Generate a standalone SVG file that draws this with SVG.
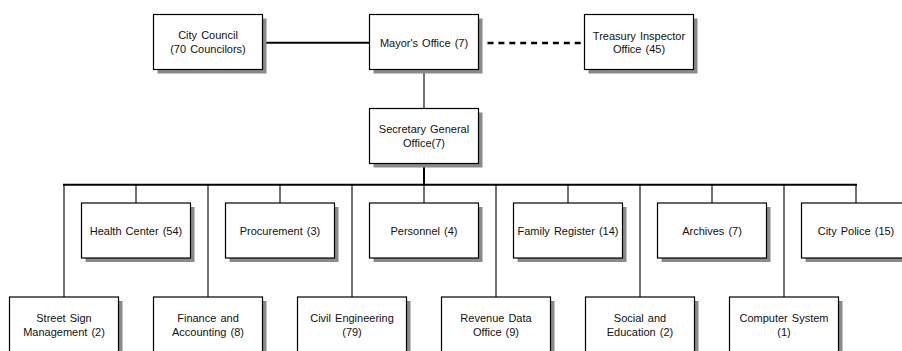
<svg xmlns="http://www.w3.org/2000/svg" width="902" height="351" viewBox="0 0 902 351">
  <style>
    .shadow { fill: #8a8a8a; }
    .box { fill: #ffffff; stroke: #000000; stroke-width: 1.2; }
    .label { font-family: "Liberation Sans", Arial, sans-serif; font-size: 11px; fill: #111111; text-anchor: middle; word-spacing: 1px; }
    .thick { stroke: #000000; stroke-width: 2; fill: none; }
    .thin { stroke: #000000; stroke-width: 1.1; fill: none; }
    .dash { stroke: #000000; stroke-width: 2.6; fill: none; stroke-dasharray: 6 4.9; }
  </style>
  <defs>
    <g id="card">
      <rect class="shadow" x="4" y="4" width="109" height="55"/>
      <rect class="box" x="0" y="0" width="109" height="55"/>
    </g>
  </defs>

  <rect width="902" height="351" fill="#ffffff"/>

  <!-- connectors -->
  <g id="connectors">
    <line class="thick" x1="263" y1="42.7" x2="369.5" y2="42.7"/>
    <line class="dash" x1="487.5" y1="43" x2="581" y2="43"/>
    <line class="thin" x1="424" y1="70" x2="424" y2="108.5" stroke-width="1.6"/>
    <line class="thick" x1="424" y1="163.5" x2="424" y2="185"/>
    <line class="thick" x1="63" y1="184.7" x2="857" y2="184.7"/>
    <!-- drops to upper row -->
    <line class="thin" x1="136" y1="185" x2="136" y2="203"/>
    <line class="thin" x1="280" y1="185" x2="280" y2="203"/>
    <line class="thin" x1="424" y1="185" x2="424" y2="203"/>
    <line class="thin" x1="568" y1="185" x2="568" y2="203"/>
    <line class="thin" x1="712" y1="185" x2="712" y2="203"/>
    <line class="thin" x1="856" y1="185" x2="856" y2="203"/>
    <!-- drops to lower row -->
    <line class="thin" x1="64" y1="185" x2="64" y2="297"/>
    <line class="thin" x1="208" y1="185" x2="208" y2="297"/>
    <line class="thin" x1="352" y1="185" x2="352" y2="297"/>
    <line class="thin" x1="496" y1="185" x2="496" y2="297"/>
    <line class="thin" x1="640" y1="185" x2="640" y2="297"/>
    <line class="thin" x1="784" y1="185" x2="784" y2="297"/>
  </g>

  <!-- top level -->
  <g id="city-council">
    <use href="#card" x="153.5" y="14.5"/>
    <text class="label" x="208" y="39">City Council</text>
    <text class="label" x="208" y="52.5">(70 Councilors)</text>
  </g>
  <g id="mayors-office">
    <use href="#card" x="369.5" y="14.5"/>
    <text class="label" x="424" y="46.5">Mayor's Office (7)</text>
  </g>
  <g id="treasury-inspector">
    <use href="#card" x="584.5" y="14.5"/>
    <text class="label" x="639" y="39.5">Treasury Inspector</text>
    <text class="label" x="639" y="53">Office (45)</text>
  </g>
  <g id="secretary-general">
    <use href="#card" x="369.5" y="108.5"/>
    <text class="label" x="424" y="132.5">Secretary General</text>
    <text class="label" x="424" y="147">Office(7)</text>
  </g>

  <!-- upper row of departments -->
  <g id="health-center">
    <use href="#card" x="81.5" y="203"/>
    <text class="label" x="136" y="234.5">Health Center (54)</text>
  </g>
  <g id="procurement">
    <use href="#card" x="225.5" y="203"/>
    <text class="label" x="280" y="234.5">Procurement (3)</text>
  </g>
  <g id="personnel">
    <use href="#card" x="369.5" y="203"/>
    <text class="label" x="424" y="234.5">Personnel (4)</text>
  </g>
  <g id="family-register">
    <use href="#card" x="513.5" y="203"/>
    <text class="label" x="568" y="234.5">Family Register (14)</text>
  </g>
  <g id="archives">
    <use href="#card" x="657.5" y="203"/>
    <text class="label" x="712" y="234.5">Archives (7)</text>
  </g>
  <g id="city-police">
    <use href="#card" x="801.5" y="203"/>
    <text class="label" x="856" y="234.5">City Police (15)</text>
  </g>

  <!-- lower row of departments -->
  <g id="street-sign">
    <use href="#card" x="9.5" y="297"/>
    <text class="label" x="64" y="322">Street Sign</text>
    <text class="label" x="64" y="335.5">Management (2)</text>
  </g>
  <g id="finance-accounting">
    <use href="#card" x="153.5" y="297"/>
    <text class="label" x="208" y="322">Finance and</text>
    <text class="label" x="208" y="335.5">Accounting (8)</text>
  </g>
  <g id="civil-engineering">
    <use href="#card" x="297.5" y="297"/>
    <text class="label" x="352" y="322">Civil Engineering</text>
    <text class="label" x="352" y="335.5">(79)</text>
  </g>
  <g id="revenue-data">
    <use href="#card" x="441.5" y="297"/>
    <text class="label" x="496" y="322">Revenue Data</text>
    <text class="label" x="496" y="335.5">Office (9)</text>
  </g>
  <g id="social-education">
    <use href="#card" x="585.5" y="297"/>
    <text class="label" x="640" y="322">Social and</text>
    <text class="label" x="640" y="335.5">Education (2)</text>
  </g>
  <g id="computer-system">
    <use href="#card" x="729.5" y="297"/>
    <text class="label" x="784" y="322">Computer System</text>
    <text class="label" x="784" y="335.5">(1)</text>
  </g>
</svg>
